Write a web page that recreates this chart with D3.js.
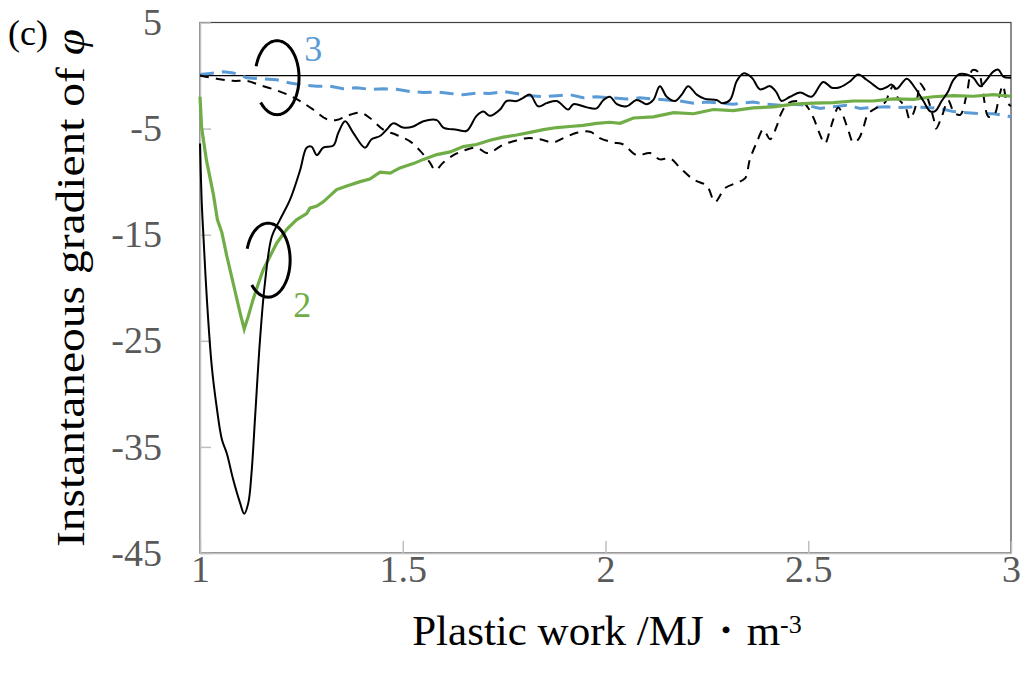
<!DOCTYPE html>
<html lang="en">
<head>
	<meta charset="utf-8">
	<title>Instantaneous gradient</title>
	<script type="text/javascript" src="https://cdn.jsdelivr.net/npm/d3@7"></script>
	<style>
		body { margin: 0; background: #fff; }
		text { font-family: "Liberation Serif", "Times New Roman", serif; }
		.axis path, .axis line { stroke: #bfbfbf; stroke-width: 1.5; }
		.axis text { fill: #595959; font-size: 38px; }
	</style>
</head>
<body>
	<div id="chart"></div>
	<script type="text/javascript">
	// x ticks / y ticks
	var xTicks = [1, 1.5, 2, 2.5, 3];
	var yTicks = [5, -5, -15, -25, -35, -45];

	// black solid curve
	var solidBlack = [[1.000,-6.4],[1.004,-11.7],[1.008,-14.8],[1.017,-21.1],[1.029,-27.4],[1.041,-31.2],[1.054,-34.3],[1.066,-35.6],[1.082,-38.1],[1.099,-40.3],[1.109,-41.3],[1.119,-40.3],[1.127,-37.5],[1.136,-32.1],[1.148,-24.9],[1.160,-19.6],[1.177,-15.2],[1.197,-13.6],[1.222,-11.7],[1.247,-8.9],[1.263,-6.8],[1.275,-6.7],[1.288,-7.5],[1.304,-6.8],[1.329,-6.6],[1.341,-5.4],[1.358,-4.3],[1.378,-5.4],[1.407,-6.8],[1.423,-6.0],[1.444,-5.7],[1.460,-5.1],[1.477,-4.5],[1.501,-4.9],[1.526,-4.8],[1.551,-4.3],[1.584,-4.2],[1.600,-4.9],[1.633,-5.1],[1.658,-5.2],[1.682,-3.8],[1.699,-3.4],[1.715,-3.8],[1.740,-3.2],[1.756,-2.4],[1.781,-2.4],[1.797,-2.1],[1.814,-1.8],[1.834,-2.9],[1.855,-2.6],[1.880,-2.4],[1.908,-3.2],[1.921,-2.7],[1.954,-3.0],[1.978,-3.1],[1.995,-2.3],[2.011,-2.0],[2.028,-2.7],[2.052,-2.9],[2.077,-2.3],[2.102,-2.7],[2.118,-2.3],[2.134,-1.0],[2.151,-2.0],[2.171,-2.4],[2.188,-1.8],[2.204,-1.0],[2.225,-1.8],[2.245,-2.2],[2.274,-2.3],[2.287,-2.6],[2.307,-2.3],[2.324,-0.5],[2.340,0.2],[2.361,-0.2],[2.381,-1.3],[2.406,-1.0],[2.422,-1.6],[2.434,-2.4],[2.455,-2.0],[2.480,-1.6],[2.508,-2.0],[2.537,-0.6],[2.558,-1.15],[2.578,-1.1],[2.603,-0.55],[2.623,0.1],[2.644,-0.4],[2.660,-0.85],[2.677,-1.3],[2.693,-1.1],[2.705,-0.85],[2.718,-1.25],[2.743,-0.3],[2.763,-1.15],[2.784,-2.4],[2.800,-3.35],[2.813,-3.35],[2.829,-2.4],[2.845,-1.5],[2.858,-0.4],[2.874,0.15],[2.891,0.1],[2.907,-0.2],[2.924,-1.0],[2.940,-0.4],[2.957,0.4],[2.969,0.55],[2.981,-0.1],[3.0,-0.2]];

	// black dashed curve
	var dashedBlack = [[1.0,0],[1.041,-0.3],[1.082,-0.5],[1.115,-0.5],[1.148,-0.9],[1.189,-1.4],[1.222,-1.9],[1.247,-2.4],[1.279,-3.2],[1.312,-4.1],[1.337,-4.2],[1.362,-3.8],[1.395,-3.5],[1.419,-4.0],[1.452,-5.1],[1.485,-5.6],[1.518,-6.2],[1.543,-7.1],[1.567,-8.2],[1.580,-8.9],[1.600,-8.2],[1.625,-7.5],[1.649,-7.1],[1.682,-6.8],[1.707,-7.3],[1.723,-7.1],[1.748,-6.5],[1.773,-6.2],[1.806,-5.9],[1.838,-6.0],[1.871,-6.3],[1.896,-5.9],[1.929,-5.4],[1.962,-5.3],[1.986,-5.9],[2.019,-6.3],[2.044,-6.5],[2.077,-7.5],[2.110,-7.3],[2.134,-7.9],[2.159,-7.8],[2.184,-8.7],[2.217,-9.8],[2.250,-10.4],[2.270,-11.9],[2.295,-10.6],[2.324,-10.1],[2.344,-9.7],[2.356,-7.9],[2.373,-6.3],[2.389,-5.1],[2.406,-6.0],[2.422,-4.8],[2.434,-3.5],[2.451,-2.6],[2.472,-2.4],[2.490,-2.6],[2.512,-3.9],[2.525,-5.2],[2.541,-6.4],[2.553,-5.2],[2.562,-4.1],[2.574,-3.0],[2.586,-3.8],[2.599,-5.2],[2.611,-6.3],[2.624,-6.0],[2.636,-4.9],[2.648,-3.6],[2.67,-3.0],[2.69,-2.5],[2.70,-1.6],[2.71,-0.95],[2.72,-2.05],[2.74,-3.0],[2.75,-4.1],[2.76,-3.5],[2.77,-1.9],[2.775,-0.75],[2.785,-1.2],[2.80,-2.8],[2.81,-4.2],[2.815,-5.0],[2.83,-3.8],[2.845,-2.35],[2.86,-3.5],[2.875,-3.7],[2.89,-1.9],[2.905,0.5],[2.92,0.3],[2.93,-1.4],[2.945,-3.9],[2.96,-3.6],[2.97,-2.1],[2.98,-0.95],[2.99,-2.5],[3.0,-2.9]];

	// green (2)
	var green2 = [[1.0,-2.0],[1.004,-4.9],[1.016,-8.0],[1.033,-11.2],[1.043,-13.6],[1.054,-14.8],[1.066,-17.0],[1.082,-19.6],[1.099,-22.4],[1.109,-23.9],[1.119,-22.7],[1.131,-21.1],[1.144,-19.6],[1.156,-18.3],[1.173,-17.0],[1.189,-15.8],[1.214,-14.5],[1.238,-13.6],[1.263,-13.0],[1.271,-12.5],[1.288,-12.3],[1.304,-11.9],[1.337,-10.75],[1.362,-10.4],[1.395,-10.0],[1.419,-9.75],[1.444,-9.1],[1.469,-9.2],[1.493,-8.7],[1.526,-8.3],[1.551,-7.9],[1.584,-7.45],[1.617,-7.2],[1.649,-6.7],[1.682,-6.5],[1.715,-6.1],[1.748,-5.8],[1.781,-5.6],[1.814,-5.35],[1.847,-5.1],[1.880,-4.9],[1.912,-4.8],[1.945,-4.7],[1.978,-4.5],[2.011,-4.4],[2.036,-4.5],[2.069,-4.0],[2.118,-3.9],[2.168,-3.5],[2.217,-3.6],[2.266,-3.2],[2.315,-3.3],[2.364,-3.05],[2.414,-2.95],[2.463,-2.7],[2.512,-2.6],[2.562,-2.55],[2.611,-2.4],[2.660,-2.4],[2.710,-2.2],[2.759,-2.25],[2.808,-2.0],[2.858,-1.9],[2.907,-1.95],[2.957,-1.8],[3.0,-1.95]];

	// blue dashed (3)
	var blue3 = [[1.0,0.1],[1.025,0.2],[1.058,0.35],[1.082,0.25],[1.115,-0.2],[1.148,-0.3],[1.189,-0.4],[1.222,-0.7],[1.255,-0.9],[1.288,-1.0],[1.321,-1.0],[1.353,-1.25],[1.386,-1.15],[1.419,-1.3],[1.452,-1.25],[1.485,-1.3],[1.518,-1.5],[1.551,-1.6],[1.584,-1.55],[1.617,-1.7],[1.649,-1.8],[1.682,-1.65],[1.715,-1.7],[1.748,-1.5],[1.781,-1.7],[1.814,-1.9],[1.847,-2.0],[1.880,-1.9],[1.912,-1.8],[1.945,-2.1],[1.978,-2.0],[2.019,-2.1],[2.052,-2.2],[2.085,-2.1],[2.118,-2.2],[2.151,-2.3],[2.184,-2.4],[2.217,-2.6],[2.250,-2.5],[2.282,-2.6],[2.315,-2.7],[2.364,-2.5],[2.397,-2.7],[2.430,-2.8],[2.463,-2.7],[2.496,-2.8],[2.529,-3.1],[2.562,-2.95],[2.595,-2.8],[2.628,-3.1],[2.661,-3.0],[2.694,-2.95],[2.726,-3.0],[2.759,-2.95],[2.792,-3.0],[2.825,-3.1],[2.858,-3.4],[2.891,-3.5],[2.924,-3.6],[2.957,-3.6],[2.990,-3.8],[3.0,-3.9]];

	// curve markers: [cx, cy, label, labelX, labelY, colour]
	var markers = [
		[1.19, -0.2, "3", 1.279, 2.6, "#5b9bd5"],
		[1.168, -17.4, "2", 1.252, -21.6, "#70ad47"]
	];

	var w = 1021, h = 675;

	var svg = d3.select("#chart")
		.append("svg")
		.attr("width", w)
		.attr("height", h);

	var x = d3.scaleLinear().domain([1, 3]).range([200, 1011]);
	var y = d3.scaleLinear().domain([-45, 5]).range([553, 22.5]);

	// plot border
	svg.append("rect")
		.attr("x", x(1)).attr("y", y(5))
		.attr("width", x(3) - x(1)).attr("height", y(-45) - y(5))
		.attr("fill", "none").attr("stroke", "#404040").attr("stroke-width", 1.2);

	svg.append("g")
		.attr("class", "axis")
		.attr("transform", "translate(0," + y(-45) + ")")
		.call(d3.axisBottom(x).tickValues(xTicks).tickFormat(function(d) { return String(d); }).tickSizeInner(-12).tickSizeOuter(0).tickPadding(2));

	svg.append("g")
		.attr("class", "axis")
		.attr("transform", "translate(" + x(1) + ",0)")
		.call(d3.axisLeft(y).tickValues(yTicks).tickFormat(function(d) { return String(d); }).tickSizeInner(-11).tickSizeOuter(0).tickPadding(38));

	// zero line
	svg.append("line")
		.attr("x1", x(1)).attr("x2", x(3))
		.attr("y1", y(0)).attr("y2", y(0))
		.attr("stroke", "#000").attr("stroke-width", 1.2);

	var smooth = d3.line()
		.x(function(d) { return x(d[0]); })
		.y(function(d) { return y(d[1]); })
		.curve(d3.curveCatmullRom.alpha(0.5));
	var rough = d3.line()
		.x(function(d) { return x(d[0]); })
		.y(function(d) { return y(d[1]); });

	svg.append("path").attr("d", rough(blue3))
		.attr("fill", "none").attr("stroke", "#5b9bd5").attr("stroke-width", 3)
		.attr("stroke-dasharray", "14,8");
	svg.append("path").attr("d", smooth(dashedBlack))
		.attr("fill", "none").attr("stroke", "#000").attr("stroke-width", 2)
		.attr("stroke-dasharray", "9,7");
	svg.append("path").attr("d", rough(green2))
		.attr("fill", "none").attr("stroke", "#70ad47").attr("stroke-width", 3.2);
	svg.append("path").attr("d", smooth(solidBlack))
		.attr("fill", "none").attr("stroke", "#000").attr("stroke-width", 2);

	// ellipse markers with their labels
	var rx = 22, ry = 37;
	markers.forEach(function(m) {
		var cx = x(m[0]), cy = y(m[1]);
		var pts = d3.range(-162, 140, 3).map(function(a) {
			var t = a * Math.PI / 180;
			return [cx + rx * Math.cos(t), cy + ry * Math.sin(t)];
		});
		svg.append("path").attr("d", d3.line().curve(d3.curveBasis)(pts))
			.attr("fill", "none").attr("stroke", "#000").attr("stroke-width", 3);
		svg.append("text")
			.attr("x", x(m[3])).attr("y", y(m[4]))
			.attr("dy", "0.35em")
			.attr("text-anchor", "middle")
			.attr("fill", m[5])
			.style("font-size", "36px")
			.text(m[2]);
	});

	svg.append("text")
		.attr("x", 8).attr("y", 45)
		.style("font-size", "36px")
		.text("(c)");

	var yt = svg.append("text")
		.attr("transform", "translate(84,288) rotate(-90)")
		.attr("text-anchor", "middle")
		.attr("textLength", 518)
		.attr("lengthAdjust", "spacingAndGlyphs")
		.style("font-size", "40px");
	yt.append("tspan").text("Instantaneous gradient of ");
	yt.append("tspan").style("font-style", "italic").text("\u03c6");

	var xt = svg.append("text")
		.attr("x", 607).attr("y", 645)
		.attr("text-anchor", "middle")
		.style("font-size", "43px");
	xt.append("tspan").text("Plastic work /MJ\u30fbm");
	xt.append("tspan").attr("dy", "-0.45em").style("font-size", "26px").text("-3");
	</script>
</body>
</html>
